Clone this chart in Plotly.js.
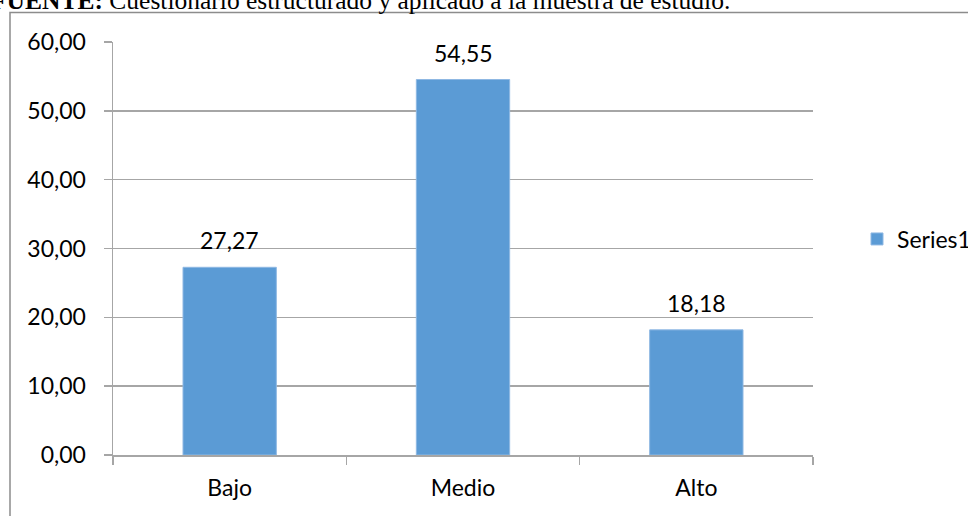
<!DOCTYPE html>
<html>
<head>
<meta charset="utf-8">
<script src="https://cdn.plot.ly/plotly-3.0.1.min.js"></script>
<style>html,body{margin:0;padding:0;background:#fff;overflow:hidden;}</style>
</head>
<body>
<div id="chart" style="width:968px;height:516px;"></div>
<script>
var categories = ["Bajo", "Medio", "Alto"];
var values = [27.27, 54.55, 18.18];
var seriesName = "Series1";
var sourceText = "<b>FUENTE:</b> Cuestionario estructurado y aplicado a la muestra de estudio.";

var W = 968, H = 516, L = 113, R = 155, T = 42, B = 61;
var pw = W - L - R, ph = H - T - B;
function px(x) { return (x - L) / pw; }
function py(y) { return (H - B - y) / ph; }

var FONT = "Lato, 'Open Sans', sans-serif";

var labelAnns = categories.map(function (c, i) {
  return {
    x: c, y: values[i], xref: "x", yref: "y",
    text: values[i].toFixed(2).replace(".", ","),
    showarrow: false, yanchor: "bottom", yshift: 11,
    font: {family: FONT, size: 23, color: "#000"}
  };
});

var trace = {
  type: "bar",
  x: categories,
  y: values,
  name: seriesName,
  marker: {color: "#5B9BD5", line: {color: "#8FB8E3", width: 1}},
  showlegend: true,
  hoverinfo: "skip"
};

var layout = {
  width: W, height: H,
  margin: {l: L, r: R, t: T, b: B, pad: 0, autoexpand: false},
  paper_bgcolor: "#fff", plot_bgcolor: "#fff",
  separators: ",.",
  bargap: 0.6,
  font: {family: FONT, size: 23, color: "#000"},
  xaxis: {
    type: "category",
    showgrid: false,
    showline: true, linecolor: "#a6a6a6", linewidth: 1.5,
    ticks: "outside", tickson: "boundaries", ticklen: 8, tickcolor: "#a6a6a6", tickwidth: 1.5,
    ticklabelstandoff: 12,
    tickfont: {family: FONT, size: 23, color: "#000"},
    zeroline: false, fixedrange: true, automargin: false
  },
  yaxis: {
    range: [0, 60], dtick: 10, tick0: 0,
    tickformat: ".2f",
    showgrid: true, gridcolor: "#a6a6a6", gridwidth: 1.5,
    showline: true, linecolor: "#a6a6a6", linewidth: 1.5,
    ticks: "outside", ticklen: 8, tickcolor: "#a6a6a6", tickwidth: 1.5,
    ticklabelstandoff: 13,
    tickfont: {family: FONT, size: 23, color: "#000"},
    zeroline: false, fixedrange: true, automargin: false
  },
  legend: {
    x: px(857), xanchor: "left", y: py(239), yanchor: "middle",
    font: {family: FONT, size: 23, color: "#000"},
    bgcolor: "rgba(0,0,0,0)", borderwidth: 0
  },
  shapes: [{
    type: "rect", xref: "paper", yref: "paper",
    x0: px(10), x1: px(1200), y0: py(800), y1: py(12.5),
    line: {color: "#8c8c8c", width: 1.5}, fillcolor: "rgba(0,0,0,0)", layer: "below"
  }],
  annotations: labelAnns.concat([{
    xref: "paper", yref: "paper",
    x: px(-11), y: py(17.5), xanchor: "left", yanchor: "bottom",
    text: sourceText, showarrow: false,
    font: {family: "'Liberation Serif', 'Times New Roman', serif", size: 25.5, color: "#000"}
  }])
};

Plotly.newPlot("chart", [trace], layout, {displayModeBar: false, staticPlot: true});
</script>
</body>
</html>
